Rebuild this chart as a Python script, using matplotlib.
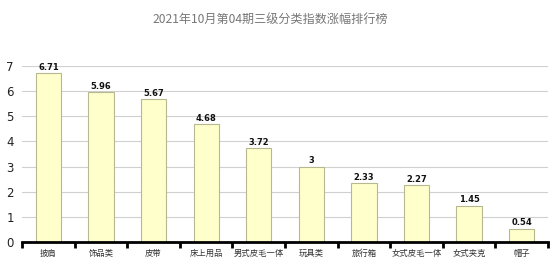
import matplotlib
matplotlib.use("Agg")
import matplotlib.pyplot as plt
import numpy as np

plt.rcParams['font.family'] = ['Noto Sans CJK SC', 'DejaVu Sans']

categories = ['披肩', '饰品类', '皮带', '床上用品', '男式皮毛一体', '玩具类', '旅行箱', '女式皮毛一体', '女式夹克', '帽子']
values = [6.71, 5.96, 5.67, 4.68, 3.72, 3, 2.33, 2.27, 1.45, 0.54]
value_labels = ['6.71', '5.96', '5.67', '4.68', '3.72', '3', '2.33', '2.27', '1.45', '0.54']
yticks = [0, 1, 2, 3, 4, 5, 6, 7]
title = '2021年10月第04期三级分类指数涨幅排行榜'

fig = plt.figure(figsize=(5.54, 2.77), dpi=100)
ax = fig.add_axes([0.040, 0.126, 0.949, 0.636])

x = np.arange(len(categories))
ax.bar(x, values, width=0.48, color='#FFFFCC', edgecolor='#B8B890', linewidth=0.8, zorder=3)
for xi, v, lab in zip(x, values, value_labels):
    ax.text(xi, v + 0.05, lab, ha='center', va='bottom', fontsize=6, fontweight='bold',
            family='DejaVu Sans', color='#111111', zorder=4)

ax.set_xlim(-0.5, len(categories) - 0.5)
ax.set_ylim(0, 7)
ax.set_yticks(yticks)
ax.set_yticklabels([str(t) for t in yticks], fontsize=8.5, family='DejaVu Sans', color='#222222')
ax.yaxis.grid(True, color='#D0D0D0', linewidth=0.8, zorder=0)
ax.tick_params(axis='y', length=0, pad=6)

ax.set_xticks(x)
ax.set_xticklabels(categories, fontsize=6, color='#333333')
ax.set_xticks(np.arange(len(categories) + 1) - 0.5, minor=True)
ax.tick_params(axis='x', which='major', length=0, pad=5)
ax.tick_params(axis='x', which='minor', length=4, width=2, color='black', direction='out')

for s in ['top', 'right', 'left']:
    ax.spines[s].set_visible(False)
ax.spines['bottom'].set_linewidth(2)
ax.spines['bottom'].set_color('black')
ax.spines['bottom'].set_zorder(5)

fig.text(0.487, 0.93, title, ha='center', va='center', fontsize=8.7, color='#777777')

fig.savefig('out.png', dpi=100, facecolor='white')
